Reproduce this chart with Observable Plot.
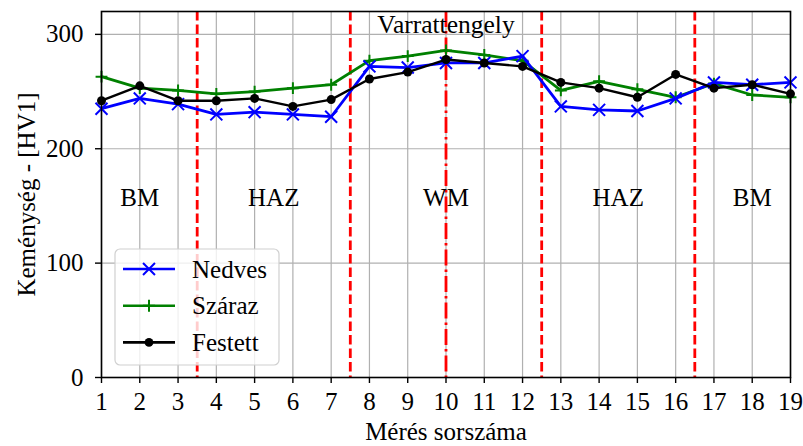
<!DOCTYPE html>
<html><head><meta charset="utf-8">
<script src="https://cdn.jsdelivr.net/npm/d3@7"></script>
<script src="https://cdn.jsdelivr.net/npm/@observablehq/plot@0.6"></script>
<style>body{margin:0;background:#fff;} svg{display:block;}</style>
</head><body><div id="chart"></div>
<script>
const measurements = [1,2,3,4,5,6,7,8,9,10,11,12,13,14,15,16,17,18,19];
const nedves  = [235,244,239,230,232,230,228,272,271,275,275,281,237,234,233,244,258,256,258];
const szaraz  = [263,253,251,248,250,253,256,277,281,286,282,277,251,259,252,245,257,247,245];
const festett = [242,255,242,242,244,237,243,261,267,278,275,272,258,253,245,265,253,256,248];
const boundaries = [3.5, 7.5, 12.5, 16.5];
const centerLine = [10];
const regionNames = ["BM","HAZ","WM","HAZ","BM"];
const regionX = [2, 5.5, 10, 14.5, 18];
const centerLabel = "Varrattengely";
const yTicks = [0,100,200,300];
const seriesNames = ["Nedves","Száraz","Festett"];
const seriesColors = ["#0000ff","#008000","#000000"];

const font = "'Liberation Serif', 'DejaVu Serif', serif";
const FS = 25;
const rows = [];
[nedves, szaraz, festett].forEach((arr, s) => arr.forEach((v,i) => rows.push({x: measurements[i], y: v, s: seriesNames[s]})));
const regions = regionNames.map((n,i) => ({x: regionX[i], name: n}));
const ser = n => rows.filter(d => d.s === n);

const plot = Plot.plot({
  width: 803, height: 446,
  marginLeft: 101, marginRight: 13, marginTop: 11, marginBottom: 69,
  style: {fontFamily: font, fontSize: FS + "px", color: "#000", background: "#fff"},
  x: {domain: [1, 19]},
  y: {domain: [0, 320]},
  marks: [
    Plot.ruleX(measurements, {stroke: "#b0b0b0", strokeWidth: 1.2}),
    Plot.ruleY(yTicks, {stroke: "#b0b0b0", strokeWidth: 1.2}),
    Plot.ruleX(boundaries, {stroke: "#ff0000", strokeWidth: 2.8, strokeDasharray: "9.5,4"}),
    Plot.ruleX(centerLine, {stroke: "#ff0000", strokeWidth: 2.8, strokeDasharray: "16,4,2.5,4"}),
    Plot.text(regions, {x: "x", y: 157, text: "name", fontSize: 25, fill: "#000"}),
    Plot.text([centerLabel], {x: 10, y: 308.5, text: d => d, fontSize: 25.5, fill: "#000"}),
    Plot.line(ser("Száraz"), {x: "x", y: "y", stroke: seriesColors[1], strokeWidth: 2.8}),
    Plot.dot(ser("Száraz"), {x: "x", y: "y", symbol: "plus", stroke: seriesColors[1], strokeWidth: 2, r: 3.9}),
    Plot.line(ser("Nedves"), {x: "x", y: "y", stroke: seriesColors[0], strokeWidth: 2.8}),
    Plot.dot(ser("Nedves"), {x: "x", y: "y", symbol: "times", stroke: seriesColors[0], strokeWidth: 2, r: 5.5}),
    Plot.line(ser("Festett"), {x: "x", y: "y", stroke: seriesColors[2], strokeWidth: 2.4}),
    Plot.dot(ser("Festett"), {x: "x", y: "y", symbol: "circle", fill: seriesColors[2], r: 4.5}),
    Plot.frame({stroke: "#000", strokeWidth: 1.6}),
    Plot.axisX({ticks: measurements, tickSize: 6, tickPadding: 9, tickFormat: d => d, fontSize: FS, strokeWidth: 1.4,
      label: "Mérés sorszáma", labelArrow: "none", labelAnchor: "center", labelOffset: 62}),
    Plot.axisY({ticks: yTicks, tickSize: 6, tickPadding: 12, fontSize: FS, strokeWidth: 1.4,
      label: "Keménység - [HV1]", labelArrow: "none", labelAnchor: "center", labelOffset: 84})
  ]
});
document.getElementById("chart").append(plot);

// legend
const svg = d3.select(plot);
const lg = svg.append("g").attr("transform", "translate(115,249)");
lg.append("rect").attr("width", 164).attr("height", 116).attr("rx", 5)
  .attr("fill", "#fff").attr("fill-opacity", 0.8).attr("stroke", "#d0d0d0").attr("stroke-width", 1.2);
const symbolFns = [d3.symbolTimes, d3.symbolPlus, d3.symbolCircle];
const symbolSizes = [95, 50, 60];
seriesNames.forEach((n, i) => {
  const yy = 20 + i * 36.7;
  lg.append("line").attr("x1", 8).attr("x2", 60).attr("y1", yy).attr("y2", yy)
    .attr("stroke", seriesColors[i]).attr("stroke-width", 2.6);
  const p = d3.symbol(symbolFns[i], symbolSizes[i])();
  const sym = lg.append("path").attr("d", p).attr("transform", `translate(34,${yy})`);
  if (i === 2) sym.attr("fill", seriesColors[i]);
  else sym.attr("fill", "none").attr("stroke", seriesColors[i]).attr("stroke-width", 2);
  lg.append("text").attr("x", 77).attr("y", yy).attr("dy", "0.35em").attr("text-anchor", "start")
    .attr("font-family", font).attr("font-size", FS).attr("fill", "#000").text(n);
});
</script></body></html>
